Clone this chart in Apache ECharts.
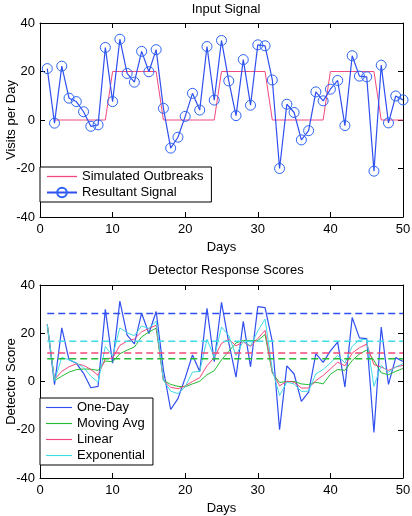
<!DOCTYPE html>
<html>
<head>
<meta charset="utf-8">
<script src="https://cdn.jsdelivr.net/npm/echarts@6/dist/echarts.min.js"></script>
<style>
html,body{margin:0;padding:0;background:#fff;}
#c{width:412px;height:516px;}
</style>
</head>
<body>
<div id="c"></div>
<script>
var days = [1,2,3,4,5,6,7,8,9,10,11,12,13,14,15,16,17,18,19,20,21,22,23,24,25,26,27,28,29,30,31,32,33,34,35,36,37,38,39,40,41,42,43,44,45,46,47,48,49,50];

var outbreaks = [null,0,0,0,0,0,0,0,0,20,20,20,20,20,20,20,0,0,0,0,0,0,0,0,20,20,20,20,20,20,20,0,0,0,0,0,0,0,0,20,20,20,20,20,20,20,0,0,0,0];

var signal = [21.2,-1.3,22.2,9.0,7.6,3.4,-2.6,-2.0,29.9,7.6,33.3,19.2,15.6,28.3,19.9,29.0,4.8,-11.6,-7.1,1.5,11.0,4.1,30.3,8.2,32.8,16.1,1.8,24.9,6.1,31.0,30.6,16.5,-20.0,6.5,3.1,-8.2,-4.4,11.6,7.9,12.7,16.3,-2.3,26.5,18.1,17.8,-21.1,22.6,-1.2,9.9,8.3];

var oneDay = [23.6,-1.3,22.2,9.0,7.6,3.4,-2.6,-2.0,29.9,7.6,33.3,19.2,15.6,28.3,19.9,29.0,4.8,-11.6,-7.1,1.5,11.0,4.1,30.3,8.2,32.8,16.1,1.8,24.9,6.1,31.0,30.6,16.5,-20.0,6.5,3.1,-8.2,-4.4,11.6,7.9,12.7,16.3,-2.3,26.5,18.1,17.8,-21.1,22.6,-1.2,9.9,8.3];

var movingAvg = [23.6,0.4,2.2,3.9,4.9,5.2,5.1,4.6,8.5,8.2,11.5,13.0,14.3,18.5,20.5,22.1,0.5,-1.2,-2.0,-2.2,-1.0,0.1,2.8,4.5,9.0,12.5,16.0,17.0,17.0,17.0,19.5,3.5,-0.4,0.0,0.0,-1.0,-1.3,-0.3,-1.0,3.0,5.0,4.6,8.7,11.4,13.0,8.7,3.6,2.8,4.2,5.4];

var linear = [23.6,0.8,4.2,6.1,7.3,6.7,5.0,2.6,9.5,9.7,15.0,16.7,17.6,20.6,22.0,23.3,0.5,-2.4,-3.0,-1.8,0.0,1.6,6.5,10.0,15.8,17.5,14.8,16.4,14.5,17.8,21.2,3.9,-1.8,0.1,-0.3,-2.7,-2.7,0.4,2.5,5.2,8.0,6.5,11.8,14.0,15.5,7.0,6.0,4.6,6.0,6.7];

var exponential = [23.6,0.2,10.0,9.0,7.7,5.8,2.2,-0.3,14.5,10.6,22.2,20.2,19.0,23.0,22.0,25.0,0.5,-4.0,-5.0,-2.2,3.9,4.2,17.5,10.0,22.6,19.0,10.8,16.7,14.8,20.9,25.9,5.0,-5.8,-0.3,-1.0,-4.1,-4.0,3.2,5.0,7.7,10.8,7.7,14.6,17.2,17.5,-2.0,6.7,3.9,6.0,7.4];

// thresholds in order: One-Day, Moving Avg, Linear, Exponential
var thresholds = [28.2, 9.4, 11.8, 16.7];
var thresholdSpan = [1, 50];

var yTicks = [-40, 40, 20];   // min, max, interval
var xTicks = [0, 50, 10];

function pairs(xs, ys){ return xs.map(function(x,i){ return [x, ys[i]]; }); }
function hline(v){ return [[thresholdSpan[0], v],[thresholdSpan[1], v]]; }

var C = {blue:'#2f4ff0', green:'#22bb33', pink:'#f2487c', cyan:'#3fdbe6'};
var FONT = 'Liberation Sans, Arial, Helvetica, sans-serif';
var LINE_ICON = 'path://M0,0H30V1.3H0Z';

function xAx(grid, show){
  return {
    type:'value', gridIndex:grid, min:xTicks[0], max:xTicks[1], interval:xTicks[2],
    position: show ? 'bottom' : 'top',
    axisLine:{show:true, onZero:false, lineStyle:{color:'#000', width:1}},
    axisTick:{show:true, inside:true, length:5, lineStyle:{color:'#000'}},
    axisLabel:{show:show, color:'#000', fontSize:13, fontFamily:FONT, margin:6},
    splitLine:{show:false},
    name: show ? 'Days' : '', nameLocation:'middle', nameGap:24, nameMoveOverlap:false,
    nameTextStyle:{color:'#000', fontSize:13, fontFamily:FONT}
  };
}
function yAx(grid, show, name){
  return {
    type:'value', gridIndex:grid, min:yTicks[0], max:yTicks[1], interval:yTicks[2],
    position: show ? 'left' : 'right',
    axisLine:{show:true, onZero:false, lineStyle:{color:'#000', width:1}},
    axisTick:{show:true, inside:true, length:5, lineStyle:{color:'#000'}},
    axisLabel:{show:show, color:'#000', fontSize:13, fontFamily:FONT, margin:5},
    splitLine:{show:false},
    name: show ? name : '', nameLocation:'middle', nameGap:22, nameMoveOverlap:false,
    nameTextStyle:{color:'#000', fontSize:13, fontFamily:FONT}
  };
}

var chart = echarts.init(document.getElementById('c'), null, {renderer:'canvas'});
chart.setOption({
  animation:false,
  backgroundColor:'#fff',
  textStyle:{fontFamily:FONT},
  title:[
    {text:'Input Signal', left:221, top:-2, textAlign:'center',
     textStyle:{fontSize:13, fontWeight:'normal', color:'#000', fontFamily:FONT}},
    {text:'Detector Response Scores', left:221, top:259, textAlign:'center',
     textStyle:{fontSize:13, fontWeight:'normal', color:'#000', fontFamily:FONT}}
  ],
  grid:[
    {left:40, top:23, width:363, height:194, containLabel:false, outerBoundsMode:'none'},
    {left:40, top:285, width:363, height:193, containLabel:false, outerBoundsMode:'none'}
  ],
  xAxis:[xAx(0,true), xAx(0,false), xAx(1,true), xAx(1,false)],
  yAxis:[yAx(0,true,'Visits per Day'), yAx(0,false,''), yAx(1,true,'Detector Score'), yAx(1,false,'')],
  legend:[
    {data:[{name:'Simulated Outbreaks', icon:LINE_ICON},{name:'Resultant Signal'}],
     orient:'vertical', left:40, top:167,
     backgroundColor:'#fff', borderColor:'#000', borderWidth:1, borderRadius:0,
     padding:[3,8,3,6], itemGap:3, itemWidth:30, itemHeight:12,
     textStyle:{fontSize:13, color:'#000', fontFamily:FONT}},
    {data:[{name:'One-Day', icon:LINE_ICON},{name:'Moving Avg', icon:LINE_ICON},{name:'Linear', icon:LINE_ICON},{name:'Exponential', icon:LINE_ICON}],
     orient:'vertical', left:40, top:398,
     backgroundColor:'#fff', borderColor:'#000', borderWidth:1, borderRadius:0,
     padding:[3,8,3,6], itemGap:3, itemWidth:26, itemHeight:12,
     textStyle:{fontSize:13, color:'#000', fontFamily:FONT}}
  ],
  series:[
    {name:'Simulated Outbreaks', type:'line', xAxisIndex:0, yAxisIndex:0, data:pairs(days, outbreaks),
     symbol:'none', lineStyle:{color:C.pink, width:1}, itemStyle:{color:C.pink}},
    {name:'Resultant Signal', type:'line', xAxisIndex:0, yAxisIndex:0, data:pairs(days, signal),
     symbol:'circle', symbolSize:10, showAllSymbol:true,
     lineStyle:{color:C.blue, width:1.2},
     itemStyle:{color:'rgba(255,255,255,0)', borderColor:'#2b63f5', borderWidth:1}},

    {name:'One-Day', type:'line', xAxisIndex:2, yAxisIndex:2, data:pairs(days, oneDay),
     symbol:'none', lineStyle:{color:C.blue, width:1.2}, itemStyle:{color:C.blue}},
    {name:'Moving Avg', type:'line', xAxisIndex:2, yAxisIndex:2, data:pairs(days, movingAvg),
     symbol:'none', lineStyle:{color:C.green, width:1}, itemStyle:{color:C.green}},
    {name:'Linear', type:'line', xAxisIndex:2, yAxisIndex:2, data:pairs(days, linear),
     symbol:'none', lineStyle:{color:C.pink, width:1}, itemStyle:{color:C.pink}},
    {name:'Exponential', type:'line', xAxisIndex:2, yAxisIndex:2, data:pairs(days, exponential),
     symbol:'none', lineStyle:{color:C.cyan, width:1}, itemStyle:{color:C.cyan}},

    {name:'thrOneDay', type:'line', xAxisIndex:2, yAxisIndex:2, data:hline(thresholds[0]),
     symbol:'none', lineStyle:{color:C.blue, width:1.5, type:[7,4]}},
    {name:'thrMoving', type:'line', xAxisIndex:2, yAxisIndex:2, data:hline(thresholds[1]),
     symbol:'none', lineStyle:{color:C.green, width:1.5, type:[7,4]}},
    {name:'thrLinear', type:'line', xAxisIndex:2, yAxisIndex:2, data:hline(thresholds[2]),
     symbol:'none', lineStyle:{color:C.pink, width:1.5, type:[7,4]}},
    {name:'thrExp', type:'line', xAxisIndex:2, yAxisIndex:2, data:hline(thresholds[3]),
     symbol:'none', lineStyle:{color:C.cyan, width:1.5, type:[7,4]}}
  ]
});
</script>
</body>
</html>
